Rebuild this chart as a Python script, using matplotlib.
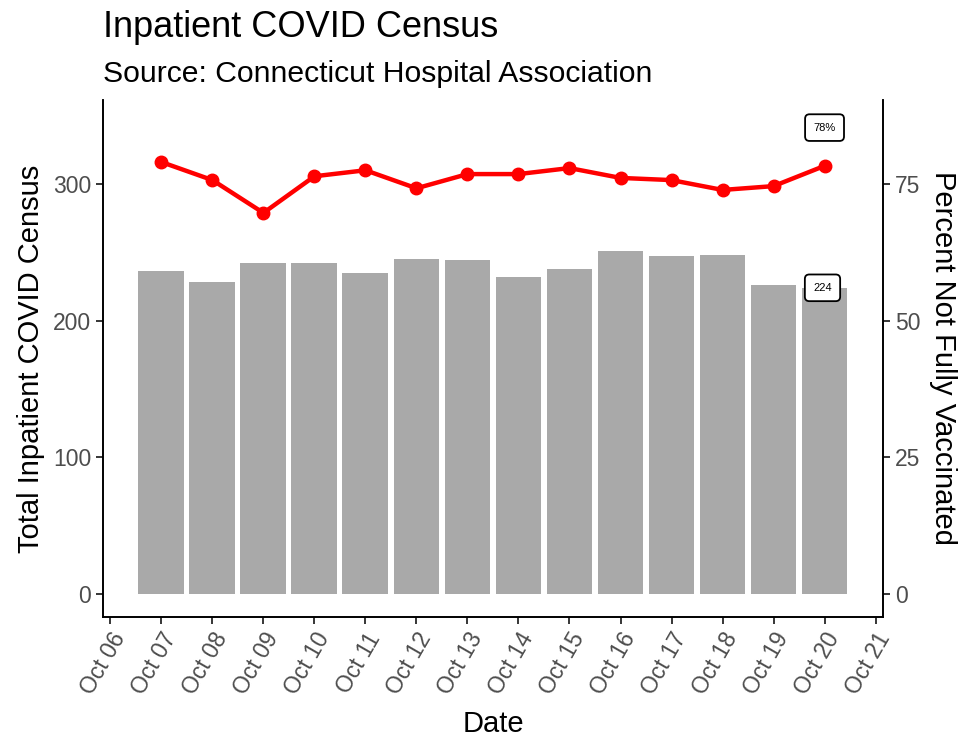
import matplotlib
matplotlib.use("Agg")
import matplotlib.pyplot as plt
import numpy as np

plt.rcParams["font.family"] = ["Liberation Sans", "DejaVu Sans"]

# data
days = list(range(7, 21))  # October
census = [236, 228, 242, 242, 235, 245, 244, 232, 238, 251, 247, 248, 226, 224]
pct_not_vax = [79.0, 75.7, 69.7, 76.4, 77.5, 74.2, 76.8, 76.8, 77.9, 76.1, 75.7, 73.9, 74.6, 78.3]
tick_days = list(range(6, 22))
tick_labels = [f"Oct {d:02d}" for d in tick_days]

grey_txt = "#4d4d4d"

fig = plt.figure(figsize=(9.59, 7.38), dpi=100)
ax = fig.add_axes([0.1074, 0.164, 0.8133, 0.7005])

ax.bar(days, census, width=0.9, color="#a9a9a9", zorder=1)
ax.set_xlim(6 - 0.145, 21 + 0.145)
ax.set_ylim(-16.8, 361.4)
ax.set_yticks([0, 100, 200, 300])

ax2 = ax.twinx()
ax2.set_ylim(-16.8 / 4, 361.4 / 4)
ax2.set_yticks([0, 25, 50, 75])
ax2.plot(days, pct_not_vax, color="red", lw=3.2, marker="o", ms=9, zorder=3)

# end labels
box = dict(boxstyle="round,pad=0.75,rounding_size=0.4", fc="white", ec="black", lw=1.3)
ax2.text(days[-1], pct_not_vax[-1] + 7, f"{round(pct_not_vax[-1])}%", fontsize=8,
         ha="center", va="center", bbox=box)
ax.text(days[-1] - 0.04, census[-1], str(census[-1]), fontsize=8, ha="center",
        va="center", bbox=box, zorder=4)

for a in (ax, ax2):
    a.spines["top"].set_visible(False)
    for s in a.spines.values():
        s.set_linewidth(1.2)
    a.tick_params(length=5, width=1.1, labelsize=16.5, labelcolor=grey_txt, color="black")

ax.set_xticks(tick_days)
ax.set_xticklabels(tick_labels, rotation=60, ha="right", rotation_mode="anchor")

ax.set_xlabel("Date", fontsize=21, labelpad=8)
ax.set_ylabel("Total Inpatient COVID Census", fontsize=21, labelpad=6)
ax2.set_ylabel("Percent Not Fully Vaccinated", fontsize=21, rotation=-90, va="bottom",
               labelpad=6)

fig.text(0.1074, 0.963, "Inpatient COVID Census", fontsize=26, va="center", ha="left")
fig.text(0.1074, 0.900, "Source: Connecticut Hospital Association", fontsize=21.7,
         va="center", ha="left")

fig.savefig("out.png", dpi=100)
